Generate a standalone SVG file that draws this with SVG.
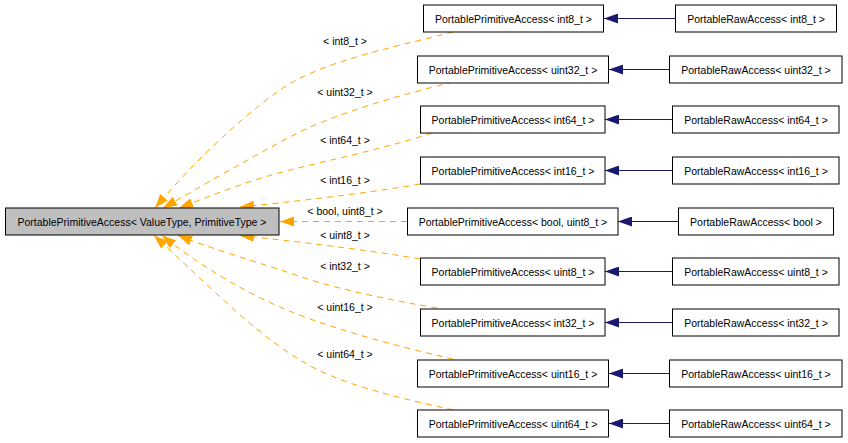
<svg xmlns="http://www.w3.org/2000/svg" width="848" height="443" viewBox="0 0 848 443">
<defs>
<style>
text{font-family:"Liberation Sans",Arial,sans-serif;font-size:10.5px;fill:#000}
.n rect{fill:#fff;stroke:#000;stroke-width:1}
.n text{text-anchor:middle}
#main rect{fill:#bfbfbf}
.e{fill:none;stroke:#ffa500;stroke-width:1;stroke-dasharray:6,5;marker-end:url(#oa)}
.b{fill:none;stroke:#191970;stroke-width:1;marker-end:url(#ba)}
.lbl{text-anchor:middle}
</style>
<marker id="oa" viewBox="0 0 14 10" refX="14" refY="5" markerWidth="14" markerHeight="10" markerUnits="userSpaceOnUse" orient="auto"><path d="M0,0L14,5L0,10z" fill="#ffa500"/></marker>
<marker id="ba" viewBox="0 0 14 10" refX="14" refY="5" markerWidth="14" markerHeight="10" markerUnits="userSpaceOnUse" orient="auto"><path d="M0,0L14,5L0,10z" fill="#191970"/></marker>
</defs>
<rect width="848" height="443" fill="#fff"/>
<g id="edges">
<path class="e" d="M453,32 C390,48 320,62 280,90 C240,118 190,166 155,208"/>
<path class="e" d="M453,82 C400,95 330,115 290,137 C250,158 200,187 163,208"/>
<path class="e" d="M432,133 C390,147 330,160 290,170 C250,180 215,194 179,208"/>
<path class="e" d="M420,184 C380,191 320,199 240,207"/>
<path class="e" d="M407,221.5 L280,221.5"/>
<path class="e" d="M420,259 C380,252 320,244 240,235.5"/>
<path class="e" d="M437,308 C390,300 330,288 290,273 C250,260 210,248 178,235.5"/>
<path class="e" d="M453,359 C390,345 320,325 280,307 C240,290 195,262 162,235.5"/>
<path class="e" d="M453,410 C400,398 340,385 300,360 C250,330 195,272 154,235.5"/>
<text class="lbl" x="345" y="44.5">&lt; int8_t &gt;</text>
<text class="lbl" x="345" y="95.5">&lt; uint32_t &gt;</text>
<text class="lbl" x="345" y="143.5">&lt; int64_t &gt;</text>
<text class="lbl" x="345" y="183.5">&lt; int16_t &gt;</text>
<text class="lbl" x="345" y="215">&lt; bool, uint8_t &gt;</text>
<text class="lbl" x="345" y="238.5">&lt; uint8_t &gt;</text>
<text class="lbl" x="345" y="269.5">&lt; int32_t &gt;</text>
<text class="lbl" x="345" y="311">&lt; uint16_t &gt;</text>
<text class="lbl" x="345" y="358">&lt; uint64_t &gt;</text>
<path class="b" d="M675,18.5 L604,18.5"/>
<path class="b" d="M669,69.5 L609,69.5"/>
<path class="b" d="M672,119.5 L605,119.5"/>
<path class="b" d="M672,170.5 L605,170.5"/>
<path class="b" d="M678,221.5 L618,221.5"/>
<path class="b" d="M672,271.5 L605,271.5"/>
<path class="b" d="M672,322.5 L605,322.5"/>
<path class="b" d="M669,373.5 L609,373.5"/>
<path class="b" d="M669,423.5 L609,423.5"/>
</g>
<g id="main" class="n"><rect x="5.5" y="208" width="273.5" height="27"/><text x="142" y="225.5">PortablePrimitiveAccess&lt; ValueType, PrimitiveType &gt;</text></g>
<g id="ppa_int8" class="n"><rect x="423.5" y="5" width="180" height="27"/><text x="513.5" y="22.5">PortablePrimitiveAccess&lt; int8_t &gt;</text></g>
<g id="ppa_uint32" class="n"><rect x="417.5" y="56" width="191" height="27"/><text x="513" y="73.5">PortablePrimitiveAccess&lt; uint32_t &gt;</text></g>
<g id="ppa_int64" class="n"><rect x="420.5" y="106" width="184.5" height="27"/><text x="513" y="123.5">PortablePrimitiveAccess&lt; int64_t &gt;</text></g>
<g id="ppa_int16" class="n"><rect x="420.5" y="157" width="184.5" height="27"/><text x="513" y="174.5">PortablePrimitiveAccess&lt; int16_t &gt;</text></g>
<g id="ppa_bool" class="n"><rect x="407.5" y="208" width="210.5" height="27"/><text x="513" y="225.5">PortablePrimitiveAccess&lt; bool, uint8_t &gt;</text></g>
<g id="ppa_uint8" class="n"><rect x="420.5" y="258" width="184.5" height="27"/><text x="513" y="275.5">PortablePrimitiveAccess&lt; uint8_t &gt;</text></g>
<g id="ppa_int32" class="n"><rect x="420.5" y="309" width="184.5" height="27"/><text x="513" y="326.5">PortablePrimitiveAccess&lt; int32_t &gt;</text></g>
<g id="ppa_uint16" class="n"><rect x="417.5" y="360" width="191" height="27"/><text x="513" y="377.5">PortablePrimitiveAccess&lt; uint16_t &gt;</text></g>
<g id="ppa_uint64" class="n"><rect x="417.5" y="410" width="191" height="27"/><text x="513" y="427.5">PortablePrimitiveAccess&lt; uint64_t &gt;</text></g>
<g id="raw_int8" class="n"><rect x="675.5" y="5" width="161" height="27"/><text x="756" y="22.5">PortableRawAccess&lt; int8_t &gt;</text></g>
<g id="raw_uint32" class="n"><rect x="669.5" y="56" width="172.5" height="27"/><text x="756" y="73.5">PortableRawAccess&lt; uint32_t &gt;</text></g>
<g id="raw_int64" class="n"><rect x="672.5" y="106" width="166.5" height="27"/><text x="756" y="123.5">PortableRawAccess&lt; int64_t &gt;</text></g>
<g id="raw_int16" class="n"><rect x="672.5" y="157" width="166.5" height="27"/><text x="756" y="174.5">PortableRawAccess&lt; int16_t &gt;</text></g>
<g id="raw_bool" class="n"><rect x="678.5" y="208" width="155" height="27"/><text x="756" y="225.5">PortableRawAccess&lt; bool &gt;</text></g>
<g id="raw_uint8" class="n"><rect x="672.5" y="258" width="166.5" height="27"/><text x="756" y="275.5">PortableRawAccess&lt; uint8_t &gt;</text></g>
<g id="raw_int32" class="n"><rect x="672.5" y="309" width="166.5" height="27"/><text x="756" y="326.5">PortableRawAccess&lt; int32_t &gt;</text></g>
<g id="raw_uint16" class="n"><rect x="669.5" y="360" width="172.5" height="27"/><text x="756" y="377.5">PortableRawAccess&lt; uint16_t &gt;</text></g>
<g id="raw_uint64" class="n"><rect x="669.5" y="410" width="172.5" height="27"/><text x="756" y="427.5">PortableRawAccess&lt; uint64_t &gt;</text></g>
</svg>
